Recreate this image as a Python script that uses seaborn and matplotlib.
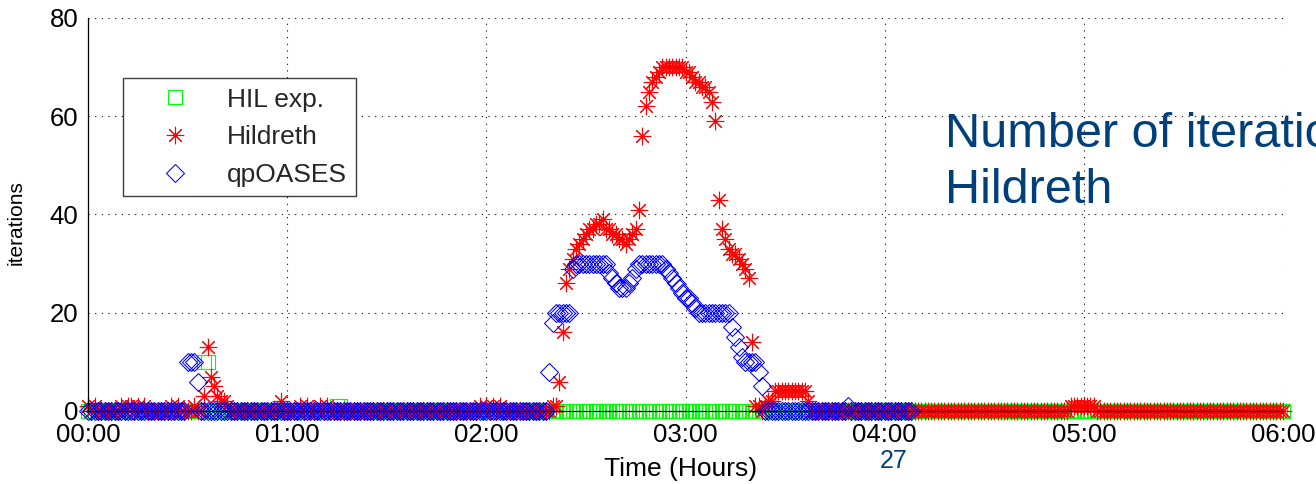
import numpy as np
import pandas as pd
import matplotlib
matplotlib.use("Agg")
import matplotlib.pyplot as plt
import seaborn as sns

# one logged QP solve per minute, 00:00 - 06:00
minutes = np.arange(0, 361)
qpoases_last_minute = 248  # qpOASES log stops a bit after 04:00

# HIL experiment: zero apart from a few samples
hil_spikes = {35: 10, 36: 10, 75: 1, 76: 1}

# Hildreth: small samples off zero + the big hump around 03:00
hildreth_spikes = {0: 1, 2: 1, 10: 1, 12: 1, 13: 1, 15: 1, 17: 1, 25: 1, 27: 1,
                   32: 1, 35: 3, 36: 13, 37: 7, 38: 5, 39: 3, 40: 2, 41: 2, 42: 1,
                   58: 2, 64: 1, 66: 1, 70: 1, 72: 1, 118: 1, 120: 1, 122: 1, 124: 1,
                   296: 1, 297: 1, 298: 1, 299: 1, 300: 1, 301: 1, 302: 1, 303: 1}
hildreth_hump_start = 140
hildreth_hump = [1, 1, 6, 16, 26, 29, 31, 33, 34, 35,
                 36, 37, 37, 38, 38, 39, 37, 37, 36, 36,
                 35, 35, 34, 35, 36, 37, 41, 56, 62, 65,
                 67, 68, 69, 70, 70, 70, 70, 70, 70, 70,
                 69, 69, 68, 67, 67, 66, 66, 65, 63, 59,
                 43, 37, 35, 33, 32, 32, 31, 30, 29, 27,
                 14, 1, 1, 0, 1, 2, 2, 4, 4, 4,
                 4, 4, 4, 4, 4, 4, 4, 2]

# qpOASES
qpoases_spikes = {30: 10, 31: 10, 32: 10, 33: 6, 229: 1}
qpoases_hump_start = 139
qpoases_hump = [8, 18, 20, 20, 20, 20, 20, 29, 30, 30,
                30, 30, 30, 30, 30, 30, 30, 30, 28, 27,
                26, 25, 25, 25, 26, 27, 29, 30, 30, 30,
                30, 30, 30, 30, 30, 29, 28, 27, 26, 25,
                24, 23, 23, 22, 21, 20, 20, 20, 20, 20,
                20, 20, 20, 20, 20, 17, 15, 13, 11, 10,
                10, 10, 10, 8, 5]

tick_minutes = [0, 60, 120, 180, 240, 300, 360]
tick_labels = ["00:00", "01:00", "02:00", "03:00", "04:00", "05:00", "06:00"]


def build_series(spikes, hump_start=None, hump=None, last=360):
    t = minutes[minutes <= last]
    v = np.zeros(len(t))
    for m, val in spikes.items():
        v[m] = val
    if hump is not None:
        v[hump_start:hump_start + len(hump)] = hump
    return pd.DataFrame({"minute": t, "iterations": v})


hil_df = build_series(hil_spikes)
hildreth_df = build_series(hildreth_spikes, hildreth_hump_start, hildreth_hump)
qpoases_df = build_series(qpoases_spikes, qpoases_hump_start, qpoases_hump,
                          last=qpoases_last_minute)

sns.set_theme(style="white")
plt.rcParams["font.family"] = ["Liberation Sans", "DejaVu Sans"]

fig = plt.figure(figsize=(13.16, 4.84), dpi=100)
ax = fig.add_axes([88 / 1316, 73 / 484, 1195 / 1316, 393 / 484])

common = dict(x="minute", y="iterations", estimator=None, sort=False,
              linestyle="", clip_on=False, ax=ax)
sns.lineplot(data=hil_df, marker="s", markersize=9.6, markerfacecolor="none",
             markeredgecolor="#00ff00", markeredgewidth=0.8, color="#00ff00",
             label="HIL exp.", **common)
sns.lineplot(data=hildreth_df, marker=(8, 2, 0), markersize=12.5, markerfacecolor="none",
             markeredgecolor="#ff0000", markeredgewidth=0.8, color="#ff0000",
             label="Hildreth", **common)
sns.lineplot(data=qpoases_df, marker="D", markersize=9, markerfacecolor="none",
             markeredgecolor="#0000ff", markeredgewidth=0.75, color="#0000ff",
             label="qpOASES", **common)

ax.set_xlim(0, 360)
ax.set_ylim(0, 80)
ax.set_xticks(tick_minutes)
ax.set_xticklabels(tick_labels)
ax.set_yticks([0, 20, 40, 60, 80])
ax.tick_params(direction="in", length=6, width=0.8, colors="black",
               labelsize=18.5, pad=7)
ax.tick_params(axis="x", pad=9)
ax.grid(True, color="black", linestyle=(0, (1, 5)), linewidth=0.8)
ax.set_axisbelow(True)
for side in ["top", "right"]:
    ax.spines[side].set_visible(False)
for side in ["left", "bottom"]:
    ax.spines[side].set_color("black")
    ax.spines[side].set_linewidth(0.9)

ax.set_xlabel("Time (Hours)", fontsize=19, color="black")
ax.xaxis.set_label_coords(0.496, -0.116)
ax.set_ylabel("iterations", fontsize=15, color="black")
ax.yaxis.set_label_coords(-0.052, 0.48)

leg = ax.legend(loc="upper left", bbox_to_anchor=(122.7 / 1316, 1 - 78.3 / 484),
                bbox_transform=fig.transFigure, fontsize=19, frameon=True,
                fancybox=False, framealpha=1, edgecolor="#404040",
                borderaxespad=0, borderpad=0.35, handlelength=3.3,
                handletextpad=0.3, labelspacing=0.52, numpoints=1)
leg.get_frame().set_linewidth(1.0)

title_color = "#00407a"
fig.text(945 / 1316, 1 - 146.7 / 484, "Number of iterations", fontsize=35,
         color=title_color, va="baseline", ha="left")
fig.text(945 / 1316, 1 - 203.3 / 484, "Hildreth", fontsize=35,
         color=title_color, va="baseline", ha="left")
fig.text(894 / 1316, 1 - 468.5 / 484, "27", fontsize=18,
         color=title_color, va="baseline", ha="center")

fig.savefig("out.png", dpi=100)
